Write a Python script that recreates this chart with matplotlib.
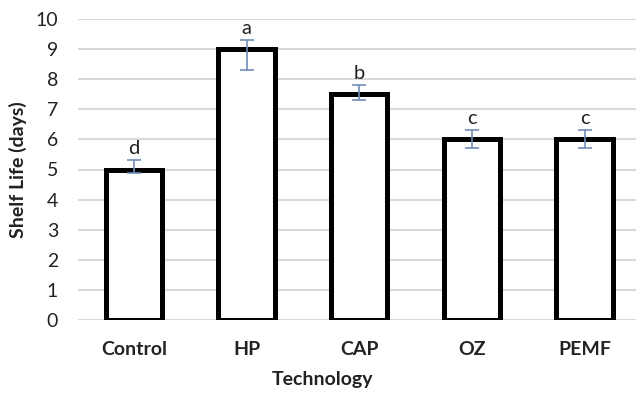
import matplotlib.pyplot as plt
import numpy as np

plt.rcParams["font.family"] = ["Lato", "DejaVu Sans"]

technologies = ["Control", "HP", "CAP", "OZ", "PEMF"]
shelf_life = [5, 9, 7.5, 6, 6]
err_low = [0.1, 0.7, 0.2, 0.3, 0.3]
err_high = [0.3, 0.3, 0.3, 0.3, 0.3]
letters = ["d", "a", "b", "c", "c"]

fig = plt.figure(figsize=(6.36, 3.93), dpi=100)
ax = fig.add_axes([77.6 / 636, (393 - 320) / 393, (641 - 77.6) / 636, 301 / 393])

x = np.arange(len(technologies))
ax.bar(x, shelf_life, width=0.5, color="white", edgecolor="black",
       linewidth=3.6, zorder=3)
ax.errorbar(x, shelf_life, yerr=[err_low, err_high], fmt="none",
            ecolor="#6f8db5", elinewidth=1.2, capsize=5, capthick=1.2, zorder=4)

for xi, v, hi, lab in zip(x, shelf_life, err_high, letters):
    ax.text(xi, v + hi + 0.1, lab, ha="center", va="bottom", fontsize=14.5,
            color="#222222")

ax.set_xlim(-0.5, 4.5)
ax.set_ylim(0, 10)
ax.set_yticks(range(0, 11))
ax.set_xticks(x)
ax.set_xticklabels(technologies, fontweight="bold")
ax.tick_params(axis="both", length=0, labelsize=14, colors="#222222")
ax.tick_params(axis="x", pad=15)
ax.tick_params(axis="y", pad=14)
ax.grid(axis="y", color="#d9d9d9", linewidth=1.5, zorder=0)
for s in ax.spines.values():
    s.set_visible(False)

ax.set_xlabel("Technology", fontsize=14, fontweight="bold", color="#222222")
ax.set_ylabel("Shelf Life (days)", fontsize=14, fontweight="bold", labelpad=6,
              color="#222222")
ax.xaxis.set_label_coords((322 - 77.6) / (641 - 77.6), (13 - 73) / 301)
ax.xaxis.label.set_va("center")

fig.savefig("out.png", dpi=100)
